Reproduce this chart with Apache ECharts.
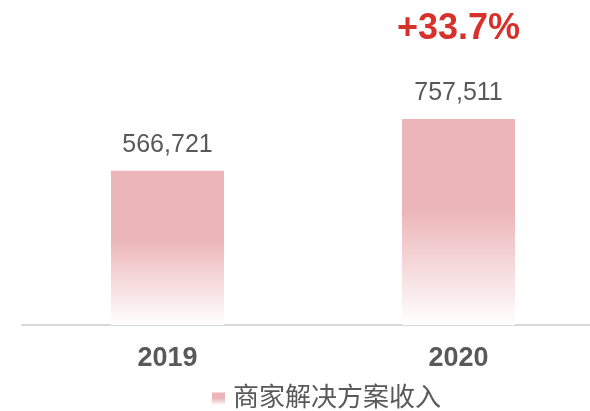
<!DOCTYPE html>
<html>
<head>
<meta charset="utf-8">
<script src="https://cdn.jsdelivr.net/npm/echarts@6/dist/echarts.min.js"></script>
<style>
  html, body { margin: 0; padding: 0; background: #fff; }
  #chart { width: 590px; height: 411px; }
</style>
</head>
<body>
<div id="chart"></div>
<script>
const years = ["2019", "2020"];
const revenue = [566721, 757511];
const growth = ["", "+33.7%"];
const seriesName = "商家解决方案收入";

const font = "Arial, 'Liberation Sans', 'Noto Sans CJK SC', sans-serif";
const fmt = (v) => v.toLocaleString("en-US");

let chart = echarts.init(document.getElementById("chart"));

const barColor = new echarts.graphic.LinearGradient(0, 0, 0, 1, [
  { offset: 0, color: "#ecb5b8" },
  { offset: 0.44, color: "#ecb5b8" },
  { offset: 1, color: "#ffffff" },
]);

const data = revenue.map(function (v, i) {
  let item = { value: v };
  if (growth[i]) {
    item.label = {
      formatter: "{a|" + growth[i] + "}\n{b|" + fmt(v) + "}",
    };
  }
  return item;
});

let option = {
  animation: false,
  textStyle: { fontFamily: font },
  grid: {
    left: 22,
    width: 582,
    top: 53,
    bottom: 86,
    containLabel: false,
    outerBoundsMode: "none",
  },
  legend: {
    data: [{ name: seriesName, icon: "rect" }],
    left: 212,
    top: 386,
    padding: 0,
    itemWidth: 13,
    itemHeight: 13,
    textStyle: {
      fontSize: 26,
      color: "#595959",
      fontFamily: font,
      padding: [0, 0, 0, 3],
    },
  },
  xAxis: {
    type: "category",
    data: years,
    axisLine: { lineStyle: { color: "#d9d9d9", width: 2 } },
    axisTick: { show: false },
    axisLabel: {
      margin: 20,
      fontSize: 27,
      fontWeight: "bold",
      color: "#595959",
      fontFamily: font,
    },
  },
  yAxis: {
    type: "value",
    min: 0,
    max: 1000000,
    show: false,
    splitLine: { show: false },
  },
  series: [
    {
      name: seriesName,
      type: "bar",
      barWidth: 113,
      data: data,
      itemStyle: { color: barColor },
      label: {
        show: true,
        position: "top",
        distance: 13,
        fontSize: 25,
        color: "#595959",
        fontFamily: font,
        formatter: function (p) { return fmt(p.value); },
        rich: {
          a: {
            fontSize: 36,
            fontWeight: "bold",
            color: "#d7312c",
            lineHeight: 104,
            fontFamily: font,
          },
          b: {
            fontSize: 25,
            color: "#595959",
            lineHeight: 25,
            fontFamily: font,
          },
        },
      },
    },
  ],
};

option && chart.setOption(option);
</script>
</body>
</html>
